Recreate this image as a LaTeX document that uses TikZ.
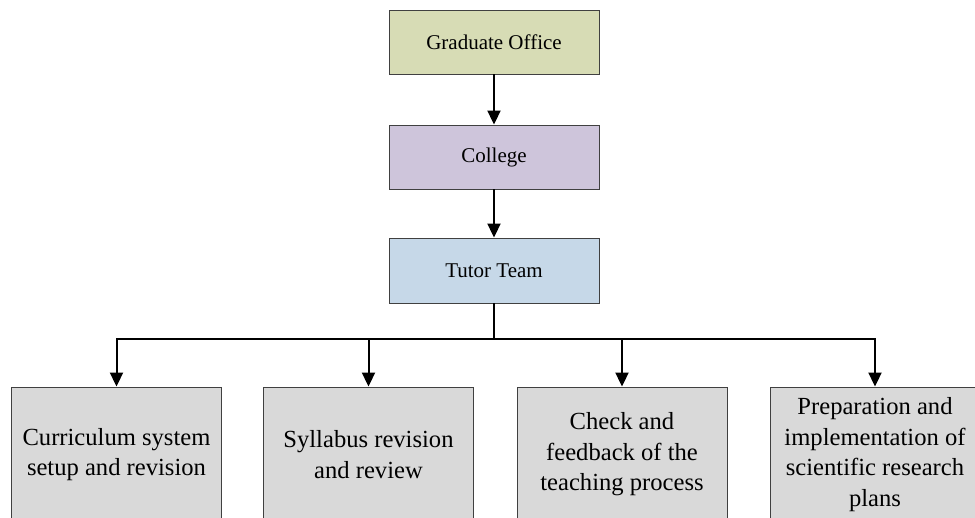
\documentclass[tikz,border=0pt]{standalone}
\usepackage{fontspec}
\setmainfont{Liberation Serif}
\usetikzlibrary{arrows.meta}
\definecolor{olivebox}{RGB}{215,220,181}
\definecolor{lilacbox}{RGB}{206,197,219}
\definecolor{bluebox}{RGB}{198,216,232}
\definecolor{greybox}{RGB}{217,217,217}
\definecolor{edgegray}{RGB}{64,64,64}
\tikzset{
  topbox/.style={draw=edgegray,line width=0.9pt,minimum width=210pt,minimum height=64pt,inner sep=0pt,font=\fontsize{21}{25}\selectfont},
  taskbox/.style={draw=edgegray,line width=0.9pt,fill=greybox,minimum width=210pt,minimum height=135pt,inner sep=0pt,align=center,font=\fontsize{24.6}{30.5}\selectfont},
  arr/.style={line width=2pt,-{Triangle[length=14pt,width=13pt]}}
}
\begin{document}
\begin{tikzpicture}[line join=miter,x=1pt,y=-1pt]
\useasboundingbox (0,0) rectangle (975,518);
\clip (0,0) rectangle (975,518);
\node[topbox,fill=olivebox] (office) at (494,42) {Graduate Office};
\node[topbox,fill=lilacbox] (college) at (494,157) {College};
\node[topbox,fill=bluebox,minimum height=65pt] (tutor) at (494,270.5) {Tutor Team};
\node[taskbox] (task1) at (116.5,454.5) {Curriculum system\\setup and revision};
\node[taskbox] (task2) at (368.5,454.5) {Syllabus revision\\and review};
\node[taskbox] (task3) at (622,454.5) {Check and\\feedback of the\\teaching process};
\node[taskbox] (task4) at (875,454.5) {Preparation and\\implementation of\\scientific research\\plans};
\coordinate (bus) at (494,339);
\draw[arr] (office) -- (college);
\draw[arr] (college) -- (tutor);
\draw[line width=2pt] (tutor) -- (bus);
\foreach \t in {task1,task2,task3,task4}
\draw[arr] (bus) -| (\t.north);
\end{tikzpicture}
\end{document}
